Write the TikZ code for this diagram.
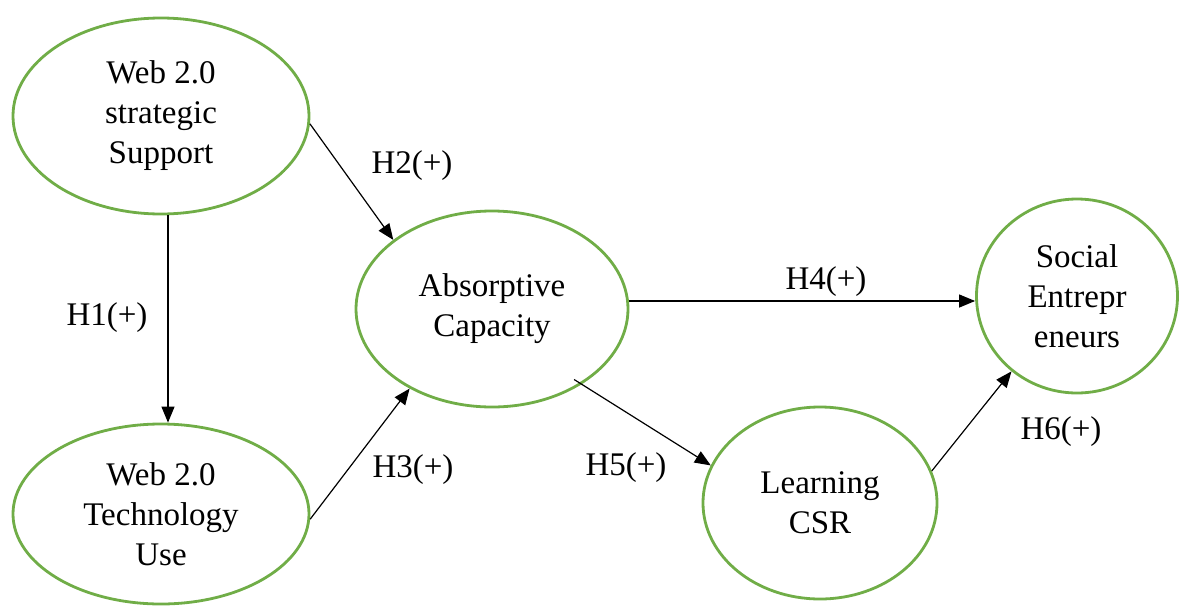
\documentclass[tikz,border=0pt]{standalone}
\usepackage{fontspec}
\setmainfont{Liberation Serif}
\usetikzlibrary{shapes.geometric,arrows.meta}
\definecolor{constructgreen}{HTML}{70AD47}
\tikzset{
    construct/.style={ellipse,draw=constructgreen,line width=1.4pt,inner sep=0pt,
        align=center,font=\fontsize{16.5}{20}\selectfont},
    hyp/.style={font=\fontsize{16.5}{20}\selectfont},
    link/.style={-{Triangle[length=8pt,width=6.5pt]},line width=0.6pt},
}

\begin{document}
\begin{tikzpicture}[x=0.5pt,y=-0.5pt]
    \useasboundingbox (0,0) rectangle (1179,606);
    % constructs
    \node[construct,minimum width=148pt,minimum height=98pt] (sup) at (161,116) {Web 2.0\\strategic\\Support};
    \node[construct,minimum width=148pt,minimum height=90pt] (tech) at (161,514) {Web 2.0\\Technology\\Use};
    \node[construct,minimum width=136pt,minimum height=98pt] (abs) at (492,309) {Absorptive\\Capacity};
    \node[construct,minimum width=117pt,minimum height=96pt] (csr) at (820,503) {Learning\\CSR};
    \node[construct,minimum width=100.5pt,minimum height=97pt] (soc) at (1077,296) {Social\\Entrepr\\eneurs};
    % hypotheses
    \draw[link] ([xshift=3.5pt]sup.south) -- ([xshift=3.5pt]tech.north);
    \draw[link] (sup.-3) -- (abs.145);
    \draw[link] (tech.-2) -- (abs.224.6);
    \draw[link] ([yshift=4pt]abs.east) -- ([yshift=-2.5pt]soc.west);
    \draw[link,shorten <=-4.5pt] (abs.-40.4) -- (csr.161.1);
    \draw[link] (csr.16.3) -- (soc.229.2);
    \node[hyp] (h1) at (107,318) {H1(+)};
    \node[hyp] (h2) at (412,166) {H2(+)};
    \node[hyp] (h3) at (413,470) {H3(+)};
    \node[hyp] (h4) at (826,282) {H4(+)};
    \node[hyp] (h5) at (626,468) {H5(+)};
    \node[hyp] (h6) at (1061,432) {H6(+)};
\end{tikzpicture}
\end{document}
